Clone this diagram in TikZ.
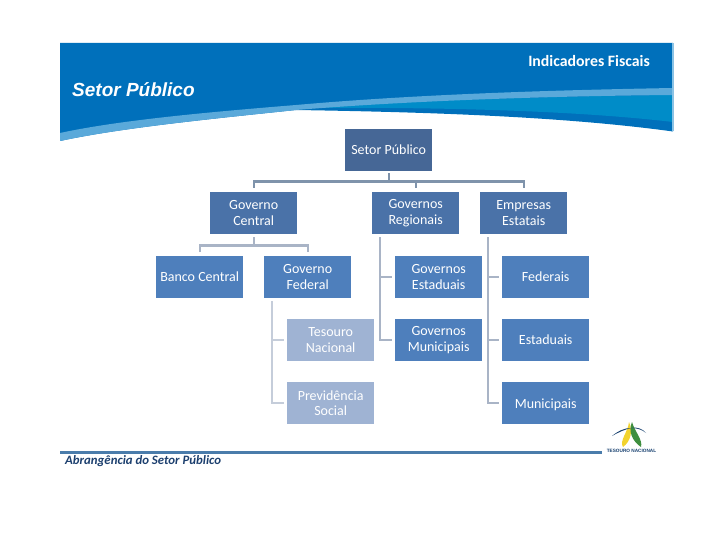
\documentclass[tikz,border=0pt]{standalone}
\usepackage{fontspec}
\setmainfont{Carlito}
\newfontfamily\headfont{Liberation Sans}
\usetikzlibrary{calc}
\definecolor{hblue}{HTML}{0070BB}
\definecolor{hteal}{HTML}{008CC8}
\definecolor{hlight}{HTML}{5AA9DA}
\definecolor{boxa}{HTML}{466796}
\definecolor{boxb}{HTML}{4A72A8}
\definecolor{boxc}{HTML}{4E7FBC}
\definecolor{boxd}{HTML}{9FB3D3}
\definecolor{linea}{HTML}{7F93AB}
\definecolor{lineb}{HTML}{A9B4C6}
\definecolor{linec}{HTML}{C5CDDA}
\definecolor{footline}{HTML}{4A7CAB}
\definecolor{foottext}{HTML}{1C3F6E}
\definecolor{logoblue}{HTML}{17406F}
\definecolor{logoyellow}{HTML}{F2D32E}
\definecolor{logogreen}{HTML}{3F8F3F}
\newcommand{\liftline}{\rule[-2pt]{0pt}{0pt}}
\tikzset{
  orgbox/.style={draw=none,minimum width=87pt,minimum height=42pt,inner sep=0pt,align=center,
    text=white,font=\fontsize{14}{15.5}\selectfont,anchor=north west},
  lvla/.style={orgbox,fill=boxa},
  lvlb/.style={orgbox,fill=boxb},
  lvlc/.style={orgbox,fill=boxc},
  lvld/.style={orgbox,fill=boxd},
  linka/.style={draw=linea,line width=2.3pt},
  linkb/.style={draw=lineb,line width=2.3pt},
  linkc/.style={draw=linec,line width=2.3pt},
}
\begin{document}
\begin{tikzpicture}[x=1pt,y=-1pt]
\useasboundingbox (0,0) rectangle (720,540);
% header
\fill[hblue] (60,43) -- (673,43) -- (673,131.5)
  .. controls (560,116) and (420,112) .. (296,110)
  .. controls (210,119) and (120,128) .. (60,141) -- cycle;
\fill[hteal] (300,108) .. controls (420,100) and (560,96) .. (673,95) -- (673,122)
  .. controls (570,110) and (430,107) .. (300,108) -- cycle;
\fill[hlight] (60,133) .. controls (120,120) and (210,112) .. (296,105)
  .. controls (420,94) and (560,90) .. (673,88) -- (673,95)
  .. controls (560,96) and (420,100) .. (296,110)
  .. controls (210,119) and (120,128) .. (60,141) -- cycle;
\fill[hlight!70!white] (672,43) rectangle (673.5,131);
\node[text=white,font=\fontsize{15.8}{17}\selectfont\bfseries,anchor=east,inner sep=0pt] (hdr) at (650,61) {Indicadores Fiscais};
\node[text=white,font=\headfont\fontsize{19}{21}\selectfont\bfseries\itshape,anchor=west,inner sep=0pt] (ttl) at (72,90) {Setor Público};
% boxes
\node[lvla] (sp) at (345,129) {\liftline Setor Público};
\node[lvlb] (gc) at (210,192) {Governo\\Central};
\node[lvlb] (gr) at (372,192) {Governos\\Regionais};
\node[lvlb] (ee) at (480,192) {Empresas\\Estatais};
\node[lvlc] (bc) at (156,256) {\liftline Banco Central};
\node[lvlc] (gf) at (264,256) {Governo\\Federal};
\node[lvlc] (ge) at (395,256) {Governos\\Estaduais};
\node[lvlc] (fe) at (502,256) {\liftline Federais};
\node[lvld] (tn) at (287,319) {Tesouro\\Nacional};
\node[lvlc] (gm) at (395,319) {Governos\\Municipais};
\node[lvlc] (es) at (502,319) {\liftline Estaduais};
\node[lvld] (ps) at (287,382) {Previdência\\Social};
\node[lvlc] (mu) at (502,382) {\rule{0pt}{12pt}Municipais};
% connectors
\coordinate (spbus) at ($(sp.south)+(0,10)$);
\draw[linka] (sp.south) ++(0,2) -- (spbus);
\draw[linka] ($(gc.north)+(0,-4)$) |- (spbus);
\draw[linka] ($(ee.north)+(0,-4)$) |- (spbus);
\draw[linka] ($(gr.north)+(0,-4)$) -- ($(gr.north)+(0,-11)$);
\coordinate (gcbus) at ($(gc.south)+(0,11)$);
\draw[linkb] ($(gc.south)+(0,3)$) -- (gcbus);
\draw[linkb] ($(bc.north)+(0,-4)$) |- (gcbus);
\draw[linkb] ($(gf.north)+(0,-4)$) |- (gcbus);
\draw[linkb] ($(gr.south west)+(8,3)$) |- ($(ge.west)+(-3,0)$);
\draw[linkb] ($(gr.south west)+(8,3)$) |- ($(gm.west)+(-3,0)$);
\draw[linkb] ($(ee.south west)+(8,3)$) |- ($(fe.west)+(-3,0)$);
\draw[linkb] ($(ee.south west)+(8,3)$) |- ($(es.west)+(-3,0)$);
\draw[linkb] ($(ee.south west)+(8,3)$) |- ($(mu.west)+(-3,0)$);
\draw[linkc] ($(gf.south west)+(8,3)$) |- ($(tn.west)+(-3,0)$);
\draw[linkc] ($(gf.south west)+(8,3)$) |- ($(ps.west)+(-3,0)$);
% footer
\coordinate (fl) at (60,452.5);
\coordinate (fr) at (602,452.5);
\draw[footline,line width=2.2pt] (fl) -- (fr);
\node[text=foottext,font=\fontsize{12.8}{14}\selectfont\bfseries\itshape,anchor=west,inner sep=0pt] (ftr) at (65,461) {Abrangência do Setor Público};
% logo
\fill[logoyellow] (629,422) .. controls (633,431) and (631,441) .. (623,447) .. controls (619,441) and (628,432) .. (629,422) -- cycle;
\fill[logogreen] (632,422) .. controls (628,431) and (632,441) .. (641,447) .. controls (643,440) and (635,432) .. (632,422) -- cycle;
\fill[logoblue] (612,436) .. controls (618,431) and (624,428) .. (631,428) .. controls (625,429.5) and (619,432) .. (612,436) -- cycle;
\fill[logoblue] (646,433) .. controls (642,429.5) and (637,428) .. (631,428) .. controls (637,426.5) and (643,429) .. (646,433) -- cycle;
\node[text=logoblue,font=\headfont\fontsize{4.7}{5}\selectfont\bfseries,inner sep=0pt] (lg) at (631.5,451) {TESOURO NACIONAL};
\end{tikzpicture}
\end{document}
